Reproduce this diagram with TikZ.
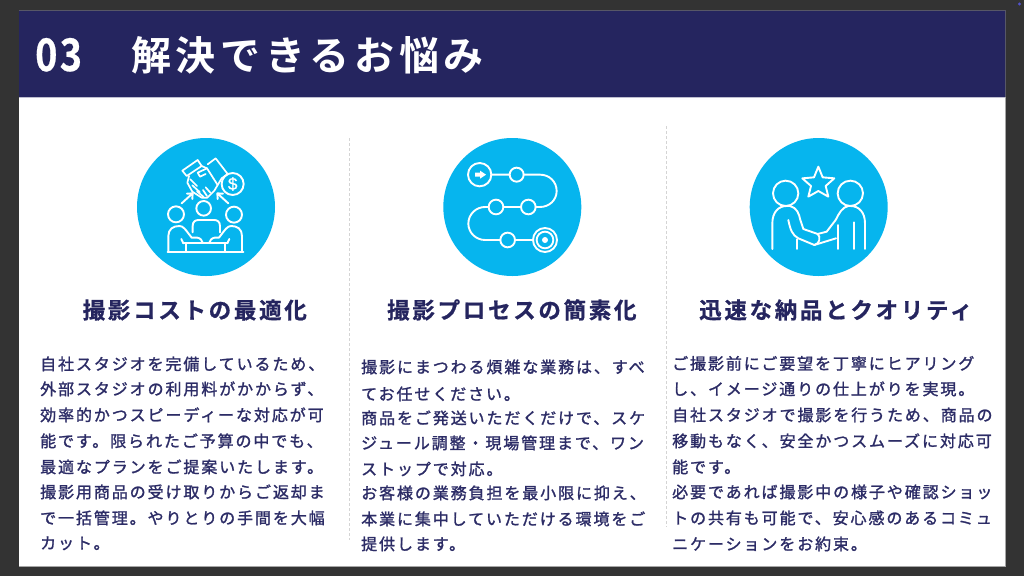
\documentclass[tikz,border=0pt]{standalone}
\usepackage{fontspec}
\newfontfamily\bodyjp{Noto Sans CJK JP}[LetterSpace=11.9,FakeBold=1.4]
\newfontfamily\headjp{Noto Sans CJK JP Bold}[LetterSpace=12,FakeBold=0.8]
\newfontfamily\titlejp{Noto Sans CJK JP Bold}[LetterSpace=12]
\newfontfamily\numjp{Noto Sans CJK JP Bold}[LetterSpace=6,FakeBold=0.6]
\newfontfamily\dollarf{Liberation Sans}[FakeBold=1]
\definecolor{navy}{HTML}{25255F}
\definecolor{bodyink}{HTML}{2C2C66}
\definecolor{sky}{HTML}{06B5EE}
\definecolor{dark}{HTML}{333333}
\tikzset{
  bodyline/.style={anchor=base west,inner sep=0pt,text=bodyink,font=\bodyjp\fontsize{16}{16}\selectfont},
  headline/.style={anchor=base west,inner sep=0pt,text=navy,font=\headjp\fontsize{22.5}{22.5}\selectfont},
  disc/.style={circle,fill=sky,draw=none,minimum size=138pt,inner sep=0pt},
  divider/.style={draw=black!17,line width=0.7pt,densely dashed},
  ico/.style={draw=white,line width=1.9pt,line cap=round,line join=round},
  icothin/.style={draw=white,line width=1.7pt,line cap=round,line join=round},
  icogrid/.style={x=0.3333pt,y=-0.3333pt}
}
\newcommand{\bl}[4]{\node[bodyline] (#1) at (#2,#3+6) {#4};}
\newcommand{\hl}[3]{\node[headline] (#1) at (#2,318.5) {#3};}
\begin{document}
\begin{tikzpicture}[x=1pt,y=-1pt]
\useasboundingbox (0,0) rectangle (1024,576);
\fill[dark] (0,0) rectangle (1024,576);
% slide
\fill[white] (19,10.5) rectangle (1005,566);
\draw[black!35,line width=0.8pt] (1005.3,97) -- (1005.3,566.3) -- (19,566.3);
\fill[navy] (19,10.5) rectangle (1005,97);
\draw[black!60!navy!70!white,line width=0.6pt] (19,10.5) -- (1005.3,10.5) -- (1005.3,97);
\draw[navy!30!white,line width=0.8pt] (19,97.5) -- (1005,97.5);
\fill[blue!60!white!80!black] (1019.5,4) circle (1.6);
% title
\node[anchor=base west,inner sep=0pt,text=white,xscale=0.84,font=\numjp\fontsize{45}{45}\selectfont] (num) at (35,71) {03};
\node[anchor=base west,inner sep=0pt,text=white,font=\titlejp\fontsize{40}{40}\selectfont] (title) at (131,70.5) {解決できるお悩み};
% dividers
\draw[divider] (349.5,138) -- (349.5,540);
\draw[divider] (666.5,126) -- (666.5,527);
% discs
\node[disc] (d1) at (206,207) {};
\node[disc] (d2) at (512.3,207) {};
\node[disc] (d3) at (818.7,207) {};
% icon 1
\begin{scope}[shift={(120,125)},icogrid,ico]
\draw (168,268) circle (24) (251,250) circle (22) (342,269) circle (24);
\draw (218,322) -- (218,303) .. controls (218,290) and (226,285) .. (236,285) -- (282,285) .. controls (292,285) and (300,290) .. (300,303) -- (300,322);
\draw (143,380) -- (370,380);
\draw (145,380) -- (145,333) .. controls (145,312) and (160,303) .. (178,303) .. controls (190,303) and (195,312) .. (215,338) -- (232,338) .. controls (242,340) and (246,346) .. (248,353);
\draw (366,380) -- (366,333) .. controls (366,312) and (352,303) .. (334,303) .. controls (322,303) and (317,312) .. (297,338) -- (284,338) .. controls (274,340) and (270,346) .. (268,353);
\draw (184,342) -- (190,355) (328,342) -- (322,355);
\draw (190,355) -- (322,355) (197,355) -- (197,380) (315,355) -- (315,380);
\draw (185,235) -- (218,205) (201,206) -- (218,205) -- (217,222);
\draw (325,235) -- (292,205) (309,206) -- (292,205) -- (293,222);
\draw (338,177) circle (33);
\end{scope}
% handshake
\begin{scope}[shift={(175,150)},icogrid,icothin]
\draw (22,62) -- (68,30) -- (80,48) -- (35,78) -- cycle;
\draw (98,43) -- (122,25) -- (158,72) -- (140,85);
\draw (42,78) -- (37,98) -- (52,125) -- (80,143) -- (97,143) -- (118,122) -- (128,105) -- (96,55) -- (80,48);
\draw (96,55) -- (68,68) -- (75,80) -- (92,72);
\draw (128,105) -- (140,85);
\draw (46,88) -- (66,108) (52,106) -- (74,126) (66,124) -- (86,141) (92,112) -- (106,128) (84,120) -- (96,138);
\end{scope}
\node[inner sep=0pt,text=white,font=\dollarf\fontsize{17}{17}\selectfont] (dollar) at (232.7,184) {\$};
% icon 2
\begin{scope}[shift={(430,125)},icogrid,ico]
\draw (149,149) circle (35);
\fill[white,draw=none] (135,143) -- (150,143) -- (150,137) -- (168,149) -- (150,161) -- (150,155) -- (135,155) -- cycle;
\draw (184,149) -- (239,149) (260,149) circle (21);
\draw (281,149) -- (330,149) .. controls (358,149) and (380,170) .. (380,198) .. controls (380,225) and (358,246) .. (330,246) -- (317,246);
\draw (295,246) circle (22) (273,246) -- (220,246) (198,246) circle (22);
\draw (176,246) -- (165,246) .. controls (138,246) and (115,268) .. (115,296) .. controls (115,323) and (138,345) .. (165,345) -- (211,345);
\draw (233,345) circle (22) (255,345) -- (310,345);
\draw (345,345) circle (36) (345,345) circle (25);
\fill[white,draw=none] (345,345) circle (9);
\end{scope}
% icon 3
\begin{scope}[shift={(735,125)},icogrid,ico]
\draw (250,125) -- (263,157) -- (298,160) -- (272,183) -- (280,215) -- (250,198) -- (220,215) -- (228,183) -- (202,160) -- (237,157) -- cycle;
\draw (152,205) circle (38) (346,205) circle (38);
\draw (112,372) -- (112,295) .. controls (112,262) and (130,243) .. (155,243) -- (165,243) .. controls (185,248) and (192,265) .. (196,285) -- (205,312) -- (248,327) .. controls (258,335) and (254,358) .. (238,360) -- (190,340) .. controls (172,330) and (166,315) .. (160,285);
\draw (187,343) -- (187,372);
\draw (390,372) -- (390,295) .. controls (390,262) and (372,243) .. (346,243) -- (340,243) .. controls (322,246) and (312,265) .. (302,285) -- (275,320) -- (248,327);
\draw (238,360) -- (303,340);
\draw (310,372) -- (310,300) (357,292) -- (357,372);
\end{scope}
% headings
\hl{h1}{82.5}{撮影コストの最適化}
\hl{h2}{387}{撮影プロセスの簡素化}
\hl{h3}{699}{迅速な納品とクオリティ}
% column 1
\bl{a1}{40}{364}{自社スタジオを完備しているため、}
\bl{a2}{40}{389}{外部スタジオの利用料がかからず、}
\bl{a3}{40}{415}{効率的かつスピーディーな対応が可}
\bl{a4}{40}{441}{能です。限られたご予算の中でも、}
\bl{a5}{40}{467}{最適なプランをご提案いたします。}
\bl{a6}{40}{492}{撮影用商品の受け取りからご返却ま}
\bl{a7}{40}{518}{で一括管理。やりとりの手間を大幅}
\bl{a8}{40}{543}{カット。}
% column 2
\bl{b1}{361}{367}{撮影にまつわる煩雑な業務は、すべ}
\bl{b2}{361}{394}{てお任せください。}
\bl{b3}{361}{418}{商品をご発送いただくだけで、スケ}
\bl{b4}{361}{443}{ジュール調整・現場管理まで、ワン}
\bl{b5}{361}{469}{ストップで対応。}
\bl{b6}{361}{493}{お客様の業務負担を最小限に抑え、}
\bl{b7}{361}{519}{本業に集中していただける環境をご}
\bl{b8}{361}{544}{提供します。}
% column 3
\bl{c1}{672}{363.5}{ご撮影前にご要望を丁寧にヒアリング}
\bl{c2}{672}{389}{し、イメージ通りの仕上がりを実現。}
\bl{c3}{672}{415}{自社スタジオで撮影を行うため、商品の}
\bl{c4}{672}{441}{移動もなく、安全かつスムーズに対応可}
\bl{c5}{672}{467}{能です。}
\bl{c6}{672}{492}{必要であれば撮影中の様子や確認ショッ}
\bl{c7}{672}{518}{トの共有も可能で、安心感のあるコミュ}
\bl{c8}{672}{544}{ニケーションをお約束。}
\end{tikzpicture}
\end{document}
